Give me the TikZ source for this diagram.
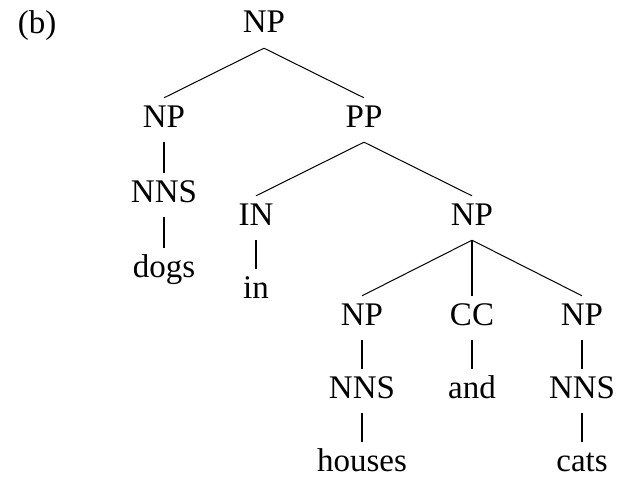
\documentclass[tikz,border=0pt]{standalone}
\usepackage{fontspec}
\setmainfont{Liberation Serif}
\begin{document}
\begin{tikzpicture}[x=1pt,y=-1pt,
  lab/.style={font=\fontsize{33}{40}\selectfont, inner sep=0pt, text height=29pt, text depth=15pt, anchor=base},
  leaf/.style={lab, text depth=4pt},
  branch/.style={line width=1pt},
  unary/.style={line width=1.7pt}]
\useasboundingbox (0,0) rectangle (617,476);
\node[leaf] (b) at (37,34) {(b)};
\node[lab] (top) at (264,33) {NP};
\node[lab] (np1) at (164,127) {NP};
\node[lab] (pp) at (364,127) {PP};
\node[lab] (nns1) at (164,202) {NNS};
\node[leaf] (dogs) at (164,277) {dogs};
\node[lab] (in1) at (256,225) {IN};
\node[lab] (np2) at (472,225) {NP};
\node[leaf] (inw) at (256,298) {in};
\node[lab] (np3) at (362,325) {NP};
\node[lab] (cc) at (472,325) {CC};
\node[lab] (np4) at (582,325) {NP};
\node[lab] (nns2) at (362,398) {NNS};
\node[leaf] (andw) at (472,398) {and};
\node[lab] (nns3) at (582,398) {NNS};
\node[leaf] (houses) at (362,471) {houses};
\node[leaf] (cats) at (582,471) {cats};
\draw[branch] (top.south) -- (np1.north);
\draw[branch] (top.south) -- (pp.north);
\draw[unary] (np1.south) -- (nns1.north);
\draw[unary] (nns1.south) -- (dogs.north);
\draw[branch] (pp.south) -- (in1.north);
\draw[branch] (pp.south) -- (np2.north);
\draw[unary] (in1.south) -- (inw.north);
\draw[branch] (np2.south) -- (np3.north);
\draw[unary] (np2.south) -- (cc.north);
\draw[branch] (np2.south) -- (np4.north);
\draw[unary] (np3.south) -- (nns2.north);
\draw[unary] (cc.south) -- (andw.north);
\draw[unary] (np4.south) -- (nns3.north);
\draw[unary] (nns2.south) -- (houses.north);
\draw[unary] (nns3.south) -- (cats.north);
\end{tikzpicture}
\end{document}
